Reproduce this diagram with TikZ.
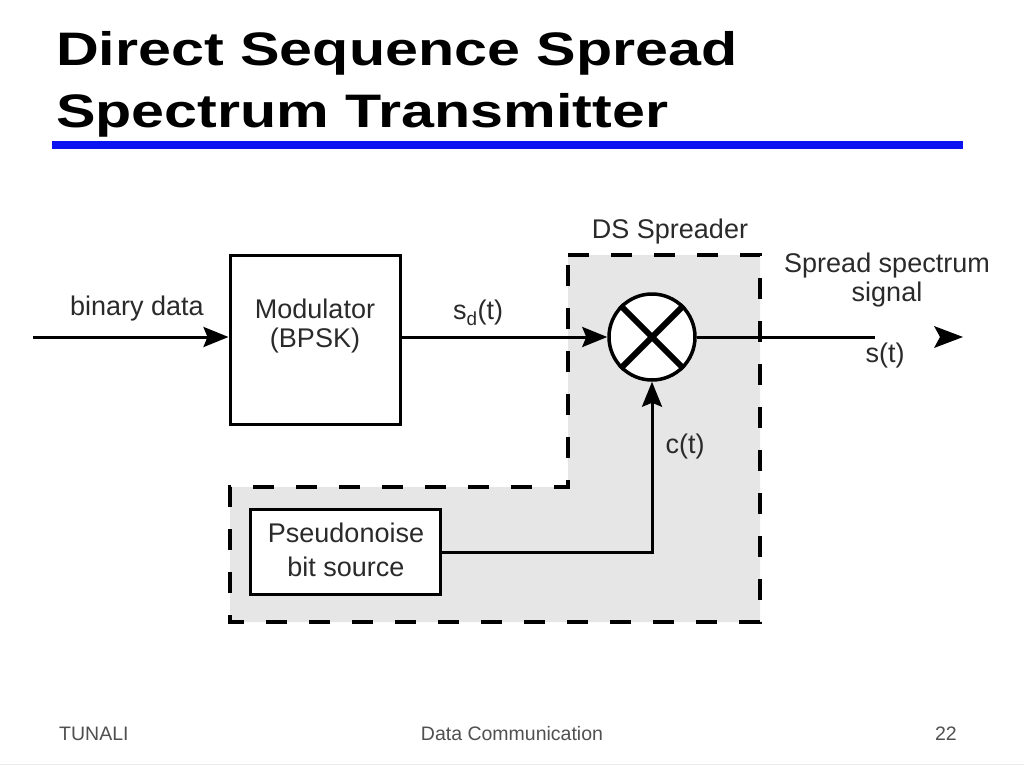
\documentclass[tikz,border=0pt]{standalone}
\usepackage{fontspec}
\usepackage{graphicx}
\setmainfont{Liberation Sans}
\usetikzlibrary{arrows.meta}
\definecolor{txt}{HTML}{2A2A2A}
\definecolor{shade}{HTML}{E6E6E6}
\definecolor{titleblue}{HTML}{0A14F0}
\definecolor{foot}{HTML}{505050}
\begin{document}
\begin{tikzpicture}[x=1pt,y=-1pt,
  lbl/.style={font=\fontsize{27}{29}\selectfont, text=txt, inner sep=0pt, align=center},
  blockbox/.style={draw=black, line width=3pt, fill=white, inner sep=0pt},
  conn/.style={line width=3pt, draw=black},
  arr/.style={conn, -{Stealth[length=25pt,width=20pt,inset=4pt]}},
  dashbox/.style={draw=black, line width=4pt, dash pattern=on 21pt off 22pt, fill=shade},
  footer/.style={font=\fontsize{19.5}{21}\selectfont, text=foot, inner sep=0pt},
  titletext/.style={anchor=base west, inner sep=0pt, font=\fontsize{47}{50}\selectfont\bfseries}
]
\useasboundingbox (0,0) rectangle (1024,768);
\fill[white] (0,0) rectangle (1024,768);

% title
\node[titletext] (t1) at (56,65) {\scalebox{1.26}[1]{Direct Sequence Spread}};
\node[titletext] (t2) at (56,127) {\scalebox{1.26}[1]{Spectrum Transmitter}};
\fill[titleblue] (52,141) rectangle (963,149);

% DS spreader region (L shape)
\draw[dashbox] (568,255) -- (760,255) -- (760,622) -- (230,622) -- (230,487) -- (568,487) -- cycle;
\node[lbl] (dslbl) at (670,232) {DS Spreader};

% blocks
\node[blockbox, minimum width=170pt, minimum height=169pt] (mod) at (315,339.5) {};
\node[lbl] (modtxt) at (315,326) {Modulator\\(BPSK)};
\node[blockbox, minimum width=190pt, minimum height=85pt] (pn) at (345,552) {};
\node[lbl] (pntxt) at (346,550) {Pseudonoise\\[5pt]bit source};

% multiplier
\node[draw=black, line width=3.5pt, fill=white, circle, minimum size=86pt, inner sep=0pt] (mult) at (652,337) {};
\draw[line width=6pt] (mult.45) -- (mult.225);
\draw[line width=6pt] (mult.135) -- (mult.315);

% connectors
\coordinate (in) at (33,337);
\coordinate (outend) at (875,337);
\draw[arr] (in) -- (in -| mod.west);
\draw[arr] (mult.west -| mod.east) -- (mult.west);
\draw[conn] (mult.east) -- (outend);
\draw[arr] (pn.east) -| (mult.south);

% standalone output arrowhead
\fill[black] (934,326) -- (963,337) -- (934,348) -- (940,337) -- cycle;

% labels
\node[lbl] (bd) at (137,309) {binary data};
\node[lbl] (sd) at (478,313) {s\textsubscript{d}(t)};
\node[lbl] (ss) at (887,280) {Spread spectrum\\signal};
\node[lbl] (st) at (885,356) {s(t)};
\node[lbl] (ct) at (685,447) {c(t)};

% footer
\node[footer, anchor=base west] (f1) at (59,740) {TUNALI};
\node[footer, anchor=base] (f2) at (512,740) {Data Communication};
\node[footer, anchor=base east] (f3) at (957,740) {22};
\draw[line width=1pt, draw=black!8] (0,764) -- (1024,764);
\end{tikzpicture}
\end{document}
